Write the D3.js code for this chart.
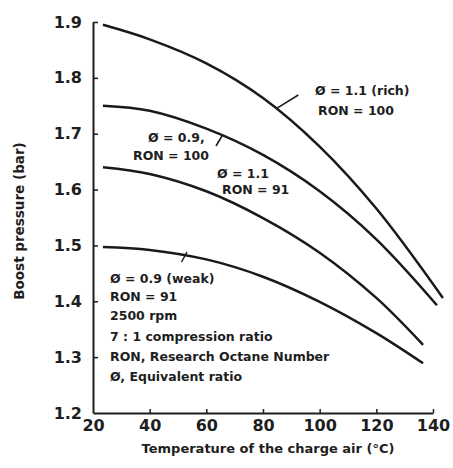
<!DOCTYPE html>
<html>
<head>
<meta charset="utf-8">
<script src="https://cdn.jsdelivr.net/npm/d3@7"></script>
<style>
  body { margin: 0; background: #fff; }
  text { font-family: "DejaVu Sans", sans-serif; font-weight: bold; fill: #1e1e1e; }
</style>
</head>
<body>
<div class="canva"></div>
<script>
// temperature of the charge air (°C) and boost pressure (bar)
const tempRich100 = [23.5, 40, 60, 80, 100, 120, 143.5];
const boostRich100 = [1.895, 1.869, 1.826, 1.764, 1.677, 1.566, 1.406];

const tempWeak100 = [23.5, 40, 60, 80, 100, 120, 141.4];
const boostWeak100 = [1.750, 1.741, 1.709, 1.662, 1.597, 1.511, 1.393];

const tempRich91 = [23.5, 40, 60, 80, 100, 120, 136.5];
const boostRich91 = [1.640, 1.628, 1.597, 1.549, 1.487, 1.406, 1.322];

const tempWeak91 = [23.5, 40, 60, 80, 100, 120, 136.5];
const boostWeak91 = [1.497, 1.492, 1.475, 1.444, 1.399, 1.343, 1.289];

const xTicks = [20, 40, 60, 80, 100, 120, 140];
const yTicks = [1.2, 1.3, 1.4, 1.5, 1.6, 1.7, 1.8, 1.9];

const series = [
  [tempRich100, boostRich100],
  [tempWeak100, boostWeak100],
  [tempRich91, boostRich91],
  [tempWeak91, boostWeak91]
].map(([t, b]) => t.map((d, i) => [d, b[i]]));

const svg = d3.select(".canva").append("svg")
    .attr("width", 453)
    .attr("height", 468);

svg.append("rect").attr("width", 453).attr("height", 468).attr("fill", "#fff");

const x = d3.scaleLinear().domain([20, 140]).range([93, 433]);
const y = d3.scaleLinear().domain([1.2, 1.9]).range([413, 22]);

// axes, ticks point inwards
const xAxis = svg.append("g")
    .attr("transform", `translate(0,${y(1.2)})`)
    .call(d3.axisBottom(x).tickValues(xTicks).tickSize(-4).tickSizeOuter(0).tickPadding(7));

const yAxis = svg.append("g")
    .attr("transform", `translate(${x(20)},0)`)
    .call(d3.axisLeft(y).tickValues(yTicks).tickFormat(d3.format(".1f")).tickSize(-5).tickSizeOuter(0).tickPadding(11));

[xAxis, yAxis].forEach(g => {
  g.select(".domain").attr("stroke", "#1e1e1e").attr("stroke-width", 2);
  g.selectAll(".tick line").attr("stroke", "#1e1e1e").attr("stroke-width", 1.5);
  g.selectAll(".tick text").attr("font-size", 16).attr("fill", "#1e1e1e");
});
xAxis.select(".tick line").remove();
yAxis.select(".tick line").remove();

const line = d3.line()
    .x(d => x(d[0]))
    .y(d => y(d[1]))
    .curve(d3.curveCatmullRom.alpha(0.5));

svg.selectAll(".curve")
    .data(series)
    .join("path")
    .attr("class", "curve")
    .attr("d", line)
    .attr("fill", "none")
    .attr("stroke", "#1a1a1a")
    .attr("stroke-width", 2.5);

// axis titles
svg.append("text")
    .text("Temperature of the charge air (°C)")
    .attr("text-anchor", "middle")
    .attr("font-size", 13)
    .attr("x", 268)
    .attr("y", 453);

svg.append("text")
    .text("Boost pressure (bar)")
    .attr("text-anchor", "middle")
    .attr("font-size", 13.5)
    .attr("transform", "translate(24,221) rotate(-90)");

// curve annotations
const notes = [
  ["Ø = 1.1 (rich)", 315, 95],
  ["RON = 100", 318, 115],
  ["Ø = 0.9,", 148, 142],
  ["RON = 100", 133, 160],
  ["Ø = 1.1", 217, 178],
  ["RON = 91", 222, 194],
  ["Ø = 0.9 (weak)", 110, 283],
  ["RON = 91", 110, 301],
  ["2500 rpm", 110, 320],
  ["7 : 1 compression ratio", 110, 341],
  ["RON, Research Octane Number", 110, 361],
  ["Ø, Equivalent ratio", 110, 381]
];

svg.selectAll(".note")
    .data(notes)
    .join("text")
    .attr("class", "note")
    .text(d => d[0])
    .attr("font-size", 12.5)
    .attr("x", d => d[1])
    .attr("y", d => d[2]);

// leader lines
const leaders = [
  [276.7, 108.3, 298.3, 95],
  [216, 146, 222, 136],
  [181.5, 262, 187, 252]
];

svg.selectAll(".leader")
    .data(leaders)
    .join("line")
    .attr("class", "leader")
    .attr("x1", d => d[0])
    .attr("y1", d => d[1])
    .attr("x2", d => d[2])
    .attr("y2", d => d[3])
    .attr("stroke", "#1a1a1a")
    .attr("stroke-width", 1.5);
</script>
</body>
</html>
